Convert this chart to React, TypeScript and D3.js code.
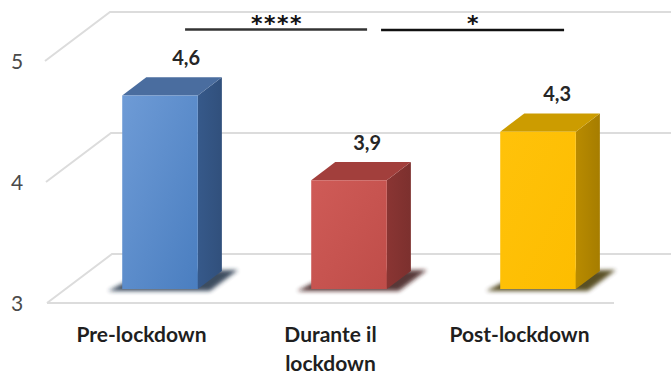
import React from "react";
import * as d3 from "d3";

// Mean scores per period
const categories: string[][] = [["Pre-lockdown"], ["Durante il", "lockdown"], ["Post-lockdown"]];
const values: number[] = [4.6, 3.9, 4.3];
const valueLabels: string[] = ["4,6", "3,9", "4,3"];
const yTicks: number[] = [3, 4, 5];
// significance brackets between pairs of bars
const sigPairs: [number, number][] = [[0, 1], [1, 2]];
const sigLabels: string[] = ["****", "*"];

const W = 671;
const H = 376;

// 3D frame geometry
const floorY = 303;
const x0 = 47;
const x1 = 614;
const DX = 65;
const DY = -49;
const fFront = 0.285;
const fBack = 0.655;

// horizontal nudges for value labels and bracket ends
const labelNudge = [2, -6, -5];
const sigOffsets = [
  [1, -6],
  [8, 2],
];

const palettes = [
  { front0: "#6e9bd6", front1: "#4a7ec0", side: "#36598a", top: "#4a6d9f", shadow: "#1f2d44" },
  { front0: "#cf5b57", front1: "#bf4d49", side: "#8a3533", top: "#a23f3c", shadow: "#3a1414" },
  { front0: "#ffc20a", front1: "#fdbd00", side: "#b98b00", top: "#cc9c00", shadow: "#3d3000" },
];

export default function App() {
  const h = d3.scaleLinear().domain([3, 5]).range([0, 242]);
  const band = d3
    .scaleBand<number>()
    .domain(d3.range(values.length))
    .range([x0, x1])
    .paddingInner(0.6)
    .paddingOuter(0.3);

  const pt = (x: number, f: number, v: number): [number, number] => [
    x + DX * f,
    floorY - h(v) + DY * f,
  ];
  const poly = (ps: [number, number][]) => ps.map((p) => p.join(",")).join(" ");

  const font = "Lato, 'Open Sans', sans-serif";

  const center = (i: number) => (band(i) as number) + band.bandwidth() / 2;
  const backCenter = (i: number) => center(i) + DX * fBack;

  return (
    <svg width={W} height={H} style={{ position: "absolute", left: 0, top: 0, background: "#fff" }}>
      <defs>
        <filter id="blur" x="-50%" y="-50%" width="200%" height="200%">
          <feGaussianBlur stdDeviation="2.2" />
        </filter>
        {palettes.map((p, i) => (
          <linearGradient key={i} id={`front${i}`} x1="0" y1="0" x2="1" y2="1">
            <stop offset="0" stopColor={p.front0} />
            <stop offset="1" stopColor={p.front1} />
          </linearGradient>
        ))}
        {palettes.map((p, i) => (
          <linearGradient key={i} id={`side${i}`} x1="0" y1="0" x2="1" y2="0">
            <stop offset="0" stopColor={p.side} />
            <stop offset="1" stopColor={d3.color(p.side)!.darker(0.3).formatHex()} />
          </linearGradient>
        ))}
      </defs>

      {/* walls and floor gridlines */}
      {yTicks.map((v) => {
        const a = pt(x0 - (v - 3), 0, v);
        const b = pt(x0 - (v - 3), 1, v);
        const c = pt(x1 + 10, 1, v);
        return (
          <g key={v} stroke="#dcdcdc" strokeWidth={2} fill="none">
            <polyline points={poly([a, b, c])} />
          </g>
        );
      })}
      <line x1={x0} x2={x1} y1={floorY} y2={floorY} stroke="#dcdcdc" strokeWidth={2} />

      {/* y tick labels */}
      {yTicks.map((v) => (
        <text
          key={v}
          x={17}
          y={floorY - h(v) + 8}
          textAnchor="middle"
          fontFamily={font}
          fontSize={21}
          fill="#4a4a4a"
        >
          {v}
        </text>
      ))}

      {/* bars */}
      {values.map((v, i) => {
        const xl = band(i) as number;
        const xr = xl + band.bandwidth();
        const fl = pt(xl, fFront, 3);
        const fr = pt(xr, fFront, 3);
        const br = pt(xr, fBack, 3);
        const bl = pt(xl, fBack, 3);
        const tfl = pt(xl, fFront, v);
        const tfr = pt(xr, fFront, v);
        const tbr = pt(xr, fBack, v);
        const tbl = pt(xl, fBack, v);
        const p = palettes[i];
        const shadow: [number, number][] = [
          [fl[0] - 14, fl[1] + 2],
          [fr[0] + 12, fr[1] + 2],
          [br[0] + 16, br[1] - 1],
          [bl[0], bl[1]],
        ];
        return (
          <g key={i}>
            <polygon points={poly(shadow)} fill={p.shadow} opacity={0.85} filter="url(#blur)" />
            <polygon points={poly([fr, br, tbr, tfr])} fill={`url(#side${i})`} />
            <polygon points={poly([tfl, tfr, tbr, tbl])} fill={p.top} />
            <polygon points={poly([fl, fr, tfr, tfl])} fill={`url(#front${i})`} />
            <text
              x={backCenter(i) + labelNudge[i]}
              y={tbl[1] - 12.5}
              textAnchor="middle"
              fontFamily={font}
              fontWeight={700}
              fontSize={20}
              fill="#262626"
            >
              {valueLabels[i]}
            </text>
          </g>
        );
      })}

      {/* category labels */}
      {categories.map((lines, i) => (
        <text
          key={i}
          y={342}
          textAnchor="middle"
          fontFamily={font}
          fontWeight={700}
          fontSize={21}
          fill="#1f1f1f"
        >
          {lines.map((t, j) => (
            <tspan key={j} x={center(i)} dy={j === 0 ? 0 : 29}>
              {t}
            </tspan>
          ))}
        </text>
      ))}

      {/* significance brackets */}
      {sigPairs.map(([a, b], k) => {
        const xa = backCenter(a) + sigOffsets[k][0];
        const xb = backCenter(b) + sigOffsets[k][1];
        const y = 29.5 + k * 0.5;
        return (
          <g key={k}>
            <line x1={xa} x2={xb} y1={y} y2={y} stroke={k === 0 ? "#333" : "#111"} strokeWidth={2.5} />
            <text
              x={(xa + xb) / 2 + 1}
              y={y + 1}
              textAnchor="middle"
              fontFamily="'DejaVu Sans', sans-serif"
              fontWeight={700}
              fontSize={22}
              letterSpacing={1.5}
              fill="#111"
            >
              {sigLabels[k]}
            </text>
          </g>
        );
      })}
    </svg>
  );
}
